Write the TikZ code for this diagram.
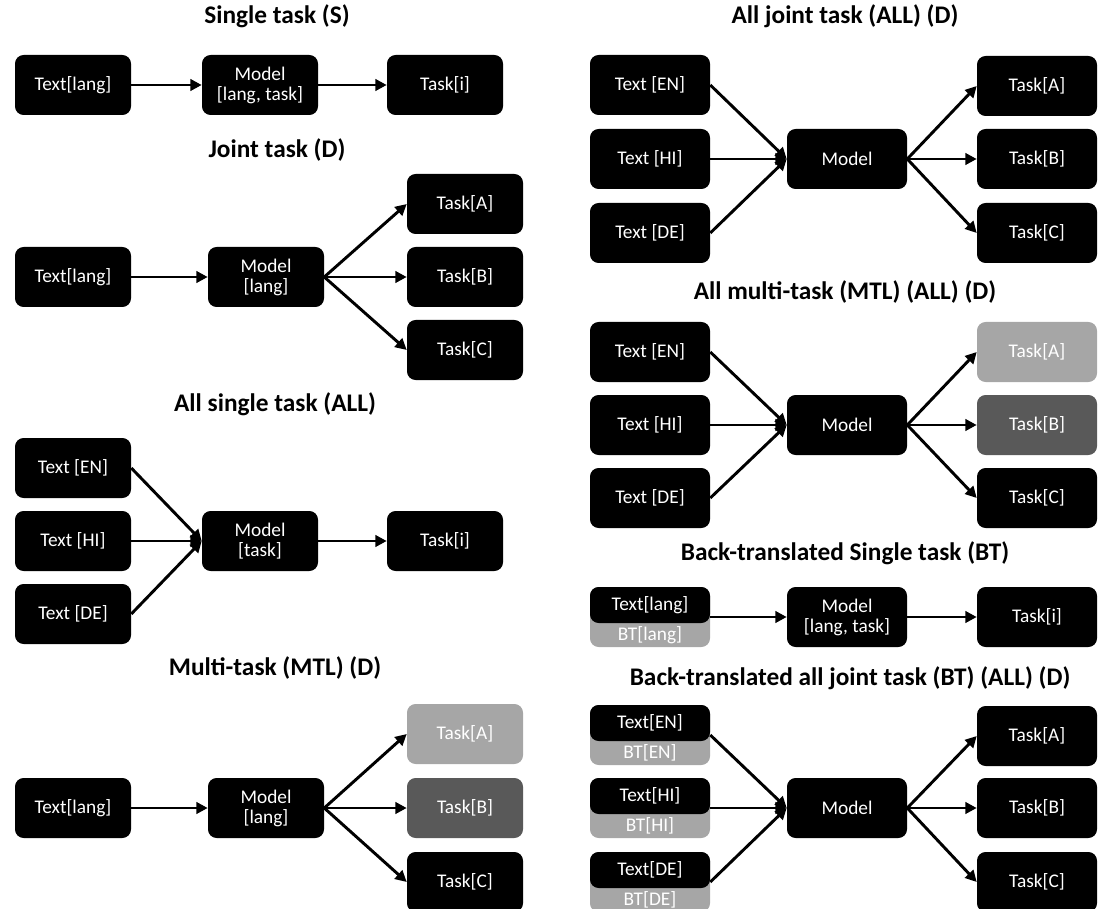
\documentclass[tikz,border=0pt]{standalone}
\usepackage{fontspec}
\setmainfont{Carlito}
\usetikzlibrary{arrows.meta}
\definecolor{lgray}{HTML}{A6A6A6}
\definecolor{dgray}{HTML}{595959}
\tikzset{
 box/.style={rounded corners=6.5pt, fill=black, text=white, inner sep=0pt, align=center,
   font=\fontsize{14.5}{17}\selectfont, minimum height=45pt},
 lbox/.style={box, minimum width=87pt},
 rbox/.style={box, minimum width=90pt},
 toppart/.style={rbox, minimum height=27pt, anchor=north},
 btlabel/.style={text=white, inner sep=0pt, font=\fontsize{14.5}{17}\selectfont},
 ttl/.style={font=\fontsize{19}{22}\selectfont\bfseries, inner sep=0pt},
 arr/.style={line width=2.2pt, -{Triangle[length=8.5pt,width=8.5pt]}},
}
\begin{document}
\begin{tikzpicture}[x=0.75pt,y=-0.75pt]
\useasboundingbox (0,0) rectangle (1103,909);
% ---------- left column ----------
\node[ttl] (t1) at (277,16) {Single task (S)};
\node[lbox] (l1t) at (73,85) {Text[lang]};
\node[lbox] (l1m) at (260,85) {Model\\[-2pt][lang, task]};
\node[lbox] (l1k) at (445,85) {Task[i]};
\draw[arr] (l1t) -- (l1m);
\draw[arr] (l1m) -- (l1k);

\node[ttl] (t2) at (277,150) {Joint task (D)};
\node[lbox] (l2t) at (73,277) {Text[lang]};
\node[lbox] (l2m) at (266,277) {Model\\[-2pt][lang]};
\node[lbox] (l2a) at (465,204) {Task[A]};
\node[lbox] (l2b) at (465,277) {Task[B]};
\node[lbox] (l2c) at (465,350) {Task[C]};
\draw[arr] (l2t) -- (l2m);
\draw[arr] (l2m.east) -- (l2a.west);
\draw[arr] (l2m.east) -- (l2b.west);
\draw[arr] (l2m.east) -- (l2c.west);

\node[ttl] (t3) at (275,404) {All single task (ALL)};
\node[lbox] (l3e) at (73,468) {Text [EN]};
\node[lbox] (l3h) at (73,541) {Text [HI]};
\node[lbox] (l3d) at (73,614) {Text [DE]};
\node[lbox] (l3m) at (260,541) {Model\\[-2pt][task]};
\node[lbox] (l3k) at (445,541) {Task[i]};
\draw[arr] (l3e.east) -- (l3m.west);
\draw[arr] (l3h.east) -- (l3m.west);
\draw[arr] (l3d.east) -- (l3m.west);
\draw[arr] (l3m) -- (l3k);

\node[ttl] (t4) at (275,668) {Multi-task (MTL) (D)};
\node[lbox] (l4t) at (73,808) {Text[lang]};
\node[lbox] (l4m) at (266,808) {Model\\[-2pt][lang]};
\node[lbox, fill=lgray] (l4a) at (465,734) {Task[A]};
\node[lbox, fill=dgray] (l4b) at (465,808) {Task[B]};
\node[lbox] (l4c) at (465,882) {Task[C]};
\draw[arr] (l4t) -- (l4m);
\draw[arr] (l4m.east) -- (l4a.west);
\draw[arr] (l4m.east) -- (l4b.west);
\draw[arr] (l4m.east) -- (l4c.west);

% ---------- right column ----------
\node[ttl] (t5) at (845,16) {All joint task (ALL) (D)};
\node[rbox] (r1e) at (650,85) {Text [EN]};
\node[rbox] (r1h) at (650,159) {Text [HI]};
\node[rbox] (r1d) at (650,233) {Text [DE]};
\node[rbox] (r1m) at (847,159) {Model};
\node[rbox] (r1a) at (1037,86) {Task[A]};
\node[rbox] (r1b) at (1037,159) {Task[B]};
\node[rbox] (r1c) at (1037,233) {Task[C]};
\foreach \s in {r1e,r1h,r1d} \draw[arr] (\s.east) -- (r1m.west);
\foreach \s in {r1a,r1b,r1c} \draw[arr] (r1m.east) -- (\s.west);

\node[ttl] (t6) at (845,292) {All multi-task (MTL) (ALL) (D)};
\node[rbox] (r2e) at (650,352) {Text [EN]};
\node[rbox] (r2h) at (650,425) {Text [HI]};
\node[rbox] (r2d) at (650,498) {Text [DE]};
\node[rbox] (r2m) at (847,425) {Model};
\node[rbox, fill=lgray] (r2a) at (1037,352) {Task[A]};
\node[rbox, fill=dgray] (r2b) at (1037,425) {Task[B]};
\node[rbox] (r2c) at (1037,498) {Task[C]};
\foreach \s in {r2e,r2h,r2d} \draw[arr] (\s.east) -- (r2m.west);
\foreach \s in {r2a,r2b,r2c} \draw[arr] (r2m.east) -- (\s.west);

\node[ttl] (t7) at (845,553) {Back-translated Single task (BT)};
\node[rbox, fill=lgray] (r3g) at (650,617) {};
\node[toppart] (r3t) at (r3g.north) {Text[lang]};
\node[btlabel] (r3l) at ([yshift=9pt]r3g.south) {BT[lang]};
\node[rbox] (r3m) at (847,617) {Model\\[-2pt][lang, task]};
\node[rbox] (r3k) at (1037,617) {Task[i]};
\draw[arr] (r3g) -- (r3m);
\draw[arr] (r3m) -- (r3k);

\node[ttl] (t8) at (850,678) {Back-translated all joint task (BT) (ALL) (D)};
\node[rbox, fill=lgray] (r4eg) at (650,735) {};
\node[toppart] (r4et) at (r4eg.north) {Text[EN]};
\node[btlabel] (r4el) at ([yshift=9pt]r4eg.south) {BT[EN]};
\node[rbox, fill=lgray] (r4hg) at (650,808) {};
\node[toppart] (r4ht) at (r4hg.north) {Text[HI]};
\node[btlabel] (r4hl) at ([yshift=9pt]r4hg.south) {BT[HI]};
\node[rbox, fill=lgray] (r4dg) at (650,882) {};
\node[toppart] (r4dt) at (r4dg.north) {Text[DE]};
\node[btlabel] (r4dl) at ([yshift=9pt]r4dg.south) {BT[DE]};
\node[rbox] (r4m) at (847,808) {Model};
\node[rbox] (r4a) at (1037,736) {Task[A]};
\node[rbox] (r4b) at (1037,808) {Task[B]};
\node[rbox] (r4c) at (1037,882) {Task[C]};
\foreach \s in {r4eg,r4hg,r4dg} \draw[arr] (\s.east) -- (r4m.west);
\foreach \s in {r4a,r4b,r4c} \draw[arr] (r4m.east) -- (\s.west);
\end{tikzpicture}
\end{document}
